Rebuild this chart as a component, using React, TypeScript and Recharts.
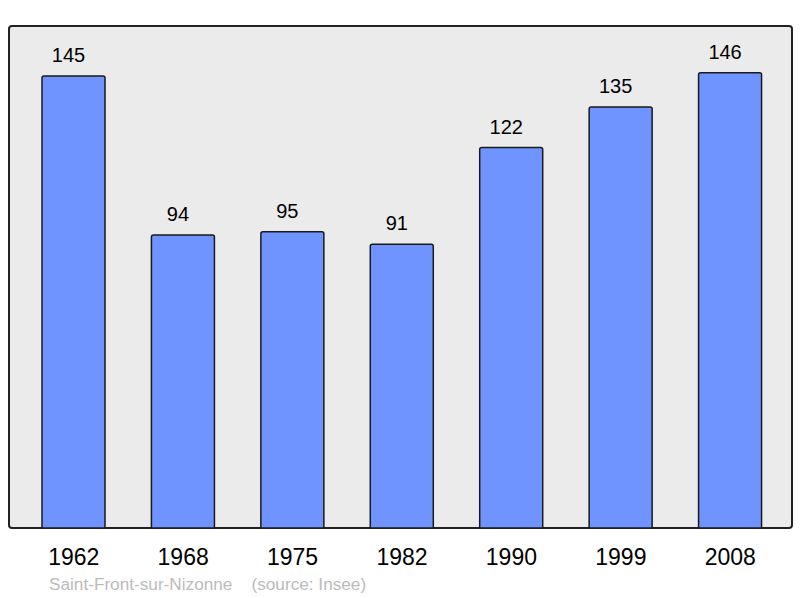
import React from 'react';
import { BarChart, Bar, XAxis, YAxis, LabelList } from 'recharts';

const years = ['1962', '1968', '1975', '1982', '1990', '1999', '2008'];
const population = [145, 94, 95, 91, 122, 135, 146];
const commune = 'Saint-Front-sur-Nizonne';
const source = '(source: Insee)';

const data = years.map((year, i) => ({ year, value: population[i] }));

const font = '"Liberation Sans", Arial, sans-serif';

const App: React.FC = () => {
  return (
    <div style={{ position: 'absolute', left: 0, top: 0, width: 800, height: 598, background: '#fff', fontFamily: font }}>
      <div
        style={{
          position: 'absolute',
          left: 8,
          top: 25,
          width: 785,
          height: 504,
          boxSizing: 'border-box',
          border: '2px solid #222',
          borderRadius: 4,
          background: '#ebebeb',
        }}
      />
      <div style={{ position: 'absolute', left: 0, top: 0 }}>
        <BarChart width={800} height={598} data={data} margin={{ top: 26, right: 8, left: 10, bottom: 0 }}>
          <XAxis
            dataKey="year"
            height={70}
            axisLine={false}
            tickLine={false}
            tickSize={0}
            tickMargin={21}
            padding={{ left: 9, right: 7 }}
            tick={{ fill: '#000', fontSize: 23, fontFamily: font }}
            interval={0}
          />
          <YAxis hide domain={[0, 161]} allowDataOverflow />
          <Bar dataKey="value" fill="#7094ff" stroke="#1a1a1a" strokeWidth={1.5} barSize={63} radius={[2, 2, 0, 0]} isAnimationActive={false}>
            <LabelList dataKey="value" position="top" offset={14} dx={-5} fill="#000" fontSize={20} fontFamily={font} />
          </Bar>
        </BarChart>
      </div>
      <div style={{ position: 'absolute', left: 49, top: 574, fontSize: 17.2, color: '#bbb', whiteSpace: 'pre' }}>
        {commune + '    ' + source}
      </div>
    </div>
  );
};

export default App;
